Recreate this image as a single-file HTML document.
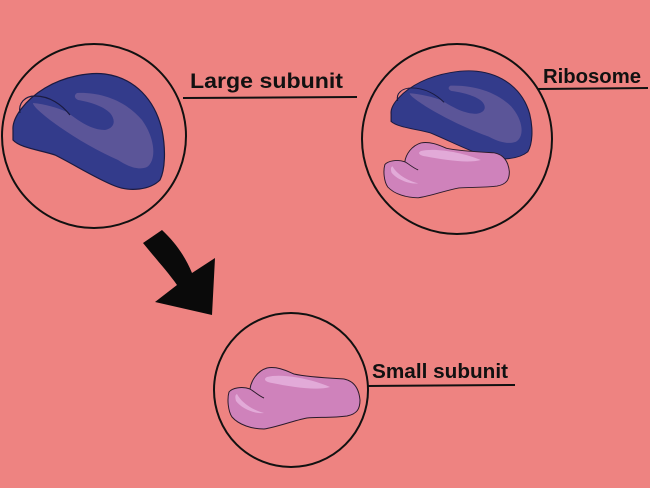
<!DOCTYPE html>
<html><head><meta charset="utf-8"><style>
html,body{margin:0;padding:0;background:#ee8381;}
svg{display:block}
text{font-family:"Liberation Sans",sans-serif;font-weight:bold;fill:#111}
</style></head><body>
<svg width="650" height="488" viewBox="0 0 650 488" xmlns="http://www.w3.org/2000/svg">
<defs>
<g id="large">
<path d="M13,130 C12,118 25,100 45,88 C65,76 90,72 105,74 C135,78 155,100 162,130 C166,150 165,170 160,180 C150,190 130,192 115,186 C95,178 75,165 55,155 C40,150 20,148 13,140 Z" fill="#333b8b" stroke="#1a1a40" stroke-width="1.2"/>
<path d="M77,93 C100,92 125,100 142,120 C155,138 157,160 147,167 C140,170 130,168 118,160 C95,150 70,135 50,120 C40,112 33,106 33,103 C45,104 58,108 67,112 C80,122 92,130 105,130 C115,128 116,120 110,113 C103,106 90,102 78,100 C74,98 74,95 77,93 Z" fill="#5b5598"/>
<path d="M20,113 C18,103 25,96 35,96 C50,96 62,105 70,115" fill="none" stroke="#1a1a40" stroke-width="1.2"/>
</g>
<g id="small">
<path d="M2,25 C5,21 15,19 23,22 C24,14 30,4 40,1 C50,-1 60,4 67,7 C80,10 100,11 117,12 C127,14 132,22 133,33 C133,42 130,47 120,49 C105,51 90,50 80,51 C65,54 50,60 37,62 C25,62 12,58 5,50 C1,44 0,32 2,25 Z" fill="#cf82bb" stroke="#2a1a2a" stroke-width="1"/>
<path d="M40,10 C55,6 85,12 103,20 C90,24 65,20 45,16 C38,15 36,12 40,10 Z" fill="#e2aad8"/>
<path d="M10,27 C14,35 25,43 37,46 C28,47 15,42 9,34 C8,30 8,28 10,27 Z" fill="#e2aad8"/>
<path d="M23,22 C28,25 32,29 37,31" fill="none" stroke="#2a1a2a" stroke-width="1"/>
</g>
</defs>

<circle cx="94" cy="136" r="92" fill="none" stroke="#111" stroke-width="2"/>
<use href="#large"/>
<line x1="183" y1="98" x2="357" y2="97" stroke="#111" stroke-width="2"/>
<text x="190" y="88" font-size="21" textLength="153" lengthAdjust="spacingAndGlyphs">Large subunit</text>

<circle cx="457" cy="139" r="95" fill="none" stroke="#111" stroke-width="2"/>
<use href="#large" transform="translate(379,15) scale(0.93,0.76)"/>
<use href="#small" transform="translate(383,142) scale(0.95,0.9)"/>
<line x1="538" y1="89" x2="648" y2="88" stroke="#111" stroke-width="2"/>
<text x="543" y="83" font-size="20" textLength="98" lengthAdjust="spacingAndGlyphs">Ribosome</text>

<path d="M143,243 L162,230 C176,243 186,258 192,273 L215,258 L212,315 L155,302 L177,285 C168,272 155,258 143,243 Z" fill="#0a0a0a"/>

<circle cx="291" cy="390" r="77" fill="none" stroke="#111" stroke-width="2"/>
<use href="#small" transform="translate(227,367)"/>
<line x1="368" y1="386" x2="515" y2="385" stroke="#111" stroke-width="2"/>
<text x="372" y="378" font-size="20" textLength="136" lengthAdjust="spacingAndGlyphs">Small subunit</text>
</svg>
</body></html>
